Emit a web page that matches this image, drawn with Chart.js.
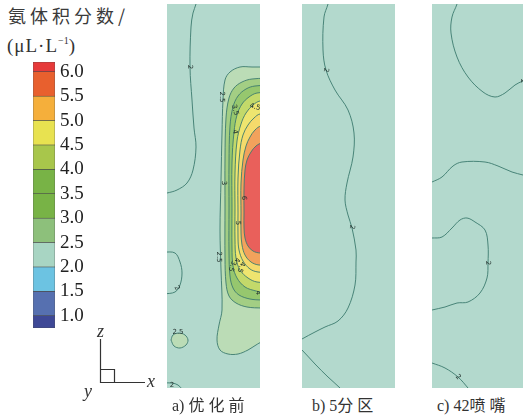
<!DOCTYPE html>
<html>
<head>
<meta charset="utf-8">
<script src="https://cdn.jsdelivr.net/npm/chart.js@4.4.1/dist/chart.umd.min.js"></script>
<style>
  html, body { margin: 0; padding: 0; background: #fff; }
  body { width: 523px; height: 419px; position: relative; overflow: hidden; color: #333; font-family: "Liberation Serif", "DejaVu Serif", "Noto Sans CJK SC", serif; }
  canvas { position: absolute; }
  .panel { top: 4px; background: #B3D9CD; }
  .title { position: absolute; left: 8px; top: 2px; font-family: "Noto Sans CJK SC"; font-size: 18px; letter-spacing: 4px; line-height: 26px; color: #3a3a3a; }
  .unit { position: absolute; left: 7px; top: 28px; font-size: 19px; letter-spacing: 1px; line-height: 26px; color: #333; }
  .unit sup { font-size: 10px; vertical-align: 8px; letter-spacing: 0; }
  .caption { position: absolute; top: 394px; font-size: 16px; line-height: 20px; white-space: nowrap; color: #333; }
  .caption span { font-family: "Noto Sans CJK SC"; letter-spacing: 4px; }
  .ax { position: absolute; font-style: italic; font-size: 18px; line-height: 18px; color: #333; }
</style>
</head>
<body>
<div class="title">氨体积分数/</div>
<div class="unit">(μL·L<sup>−1</sup>)</div>

<canvas id="colorbar" width="95" height="310" style="left:0;top:40px"></canvas>

<svg width="160" height="80" style="position:absolute;left:0;top:330px">
  <polyline points="100.5,9 100.5,52.5 145,52.5" fill="none" stroke="#333" stroke-width="1.2"/>
  <polyline points="100.5,39.5 114.5,39.5 114.5,52.5" fill="none" stroke="#333" stroke-width="1.2"/>
</svg>
<div class="ax" style="left:97px;top:322px">z</div>
<div class="ax" style="left:147px;top:372px">x</div>
<div class="ax" style="left:84px;top:382px">y</div>

<canvas id="panel-a" class="panel" width="93" height="384" style="left:167px"></canvas>
<canvas id="panel-b" class="panel" width="93" height="384" style="left:302px"></canvas>
<canvas id="panel-c" class="panel" width="93" height="384" style="left:432px"></canvas>

<div class="caption" style="left:172px">a) <span>优化前</span></div>
<div class="caption" style="left:312px">b) 5<span>分区</span></div>
<div class="caption" style="left:437px">c) 42<span>喷嘴</span></div>

<script>
// colour scale of the legend (ammonia volume fraction, μL/L)
const barLevels = [0.75, 1.0, 1.5, 2.0, 2.5, 3.0, 3.5, 4.0, 4.5, 5.0, 5.5, 6.0, 6.2];
const barTicks = [1.0, 1.5, 2.0, 2.5, 3.0, 3.5, 4.0, 4.5, 5.0, 5.5, 6.0];
const barColors = ['#3E4896', '#5670B0', '#6CC3E2', '#A8D5C3', '#8DC07B', '#78B346',
  '#78B346', '#A8C64B', '#E8E250', '#F5AF3B', '#E8602E', '#E63A3A'];

// panel a) contours, [x, z] with z measured up from the bottom of the section
const contourA25 = [[110, 321], [85, 321], [73, 321], [63, 316], [58, 308], [56, 288], [55, 255], [54, 208],
  [53, 158], [54, 118], [55, 78], [52, 63], [50, 48], [53, 38], [61, 34], [71, 34], [81, 38], [89, 43], [95, 46], [110, 47]];
const contourA30 = [[110, 310], [85, 309], [75, 306], [67, 300], [62, 290], [59, 270], [58, 230], [58, 180],
  [58, 130], [59, 105], [62, 92], [69, 85], [80, 81], [95, 80], [110, 80]];
const contourA35 = [[110, 303], [88, 302], [79, 299], [71, 292], [66, 281], [63, 262], [62, 225], [62, 180],
  [62, 135], [63, 112], [66, 100], [72, 93], [83, 89], [95, 88], [110, 88]];
const contourA40 = [[110, 296], [90, 295], [82, 291], [75, 284], [70, 273], [67, 256], [65, 225], [65, 180],
  [65, 140], [66, 122], [70, 110], [78, 101], [89, 97], [95, 96], [110, 95]];
const contourA45 = [[110, 288], [93, 287], [86, 283], [79, 275], [74, 264], [70, 247], [68, 215], [68, 180],
  [68, 148], [69, 130], [73, 118], [81, 110], [90, 106], [110, 105]];
const contourA50 = [[110, 275], [93, 274], [87, 270], [81, 263], [76, 253], [73, 238], [71, 210], [71, 175],
  [71, 150], [72, 138], [76, 127], [83, 119], [91, 116], [110, 115]];
const contourA55 = [[110, 263], [94, 262], [88, 258], [83, 251], [79, 242], [76, 228], [74, 205], [74, 175],
  [74, 155], [75, 143], [78, 133], [84, 126], [92, 123], [110, 123]];
const contourA60 = [[110, 246], [95, 245], [89, 242], [84, 236], [80, 228], [78, 218], [77, 200], [77, 175],
  [77, 160], [78, 150], [81, 142], [86, 137], [93, 135], [110, 135]];
const contourASpot25 = [[4, 48], [6, 53], [12, 55], [18, 53], [21, 48], [19, 43], [13, 40], [7, 42], [4, 48]];
const panelABands = [contourA25, contourA30, contourA35, contourA40, contourA45, contourA50, contourA55, contourA60, contourASpot25];
const panelABandColors = ['#BBDCB6', '#A3CE84', '#96C76E', '#C3D96A', '#EEE56F', '#F5DA6B', '#F2A25C', '#E9605B', '#BBDCB6'];

const lineA2Top = [[30, 392], [29, 384], [26, 375], [24, 361], [23, 321], [25, 288], [27, 260], [29, 241],
  [26, 218], [20, 205], [10, 198], [0, 195], [-3, 195]];
const lineA2Left = [[-3, 136], [8, 135], [13, 126], [15, 115], [13, 103], [8, 96], [-3, 94]];
const lineA2Corner = [[-3, 5], [5, 5], [11, 3], [16, -2]];
const panelALines = [lineA2Top, lineA2Left, lineA2Corner];
const panelALabels = [[23, 321, '2', 90], [55, 291, '2.5', 90], [68, 278, '3.5', 75], [88, 281, '4.5', 15],
  [68, 256, '4', 80], [57, 205, '3', 90], [77, 190, '6', 90], [71, 165, '5', 90], [52, 131, '2.5', 90],
  [70, 128, '4', 100], [65, 122, '3.5', 110], [74, 121, '4.5', 110], [10, 100, '2', 60], [11, 56, '2.5', 0],
  [5, 3, '2', 0], [91, 95, '4', 90]];

// panel b) contours
const lineB2Main = [[27, 390], [26, 384], [22, 371], [21, 338], [24, 318], [33, 298], [46, 278], [52, 255],
  [51, 231], [45, 205], [43, 188], [46, 173], [50, 160], [54, 138], [54, 126], [53, 103], [46, 80], [36, 67],
  [23, 61], [13, 56], [0, 49], [-3, 47]];
const lineB2Low = [[-3, 40], [0, 38], [13, 24], [26, 11], [38, 0], [40, -3]];
const panelBLines = [lineB2Main, lineB2Low];
const panelBLabels = [[24, 318, '2', 100], [50, 161, '2', 100]];

// panel c) contours
const lineC2Top = [[26, 390], [25, 384], [20, 371], [19, 355], [25, 331], [36, 311], [51, 296], [63, 291],
  [73, 295], [83, 303], [91, 307], [98, 309]];
const lineC2Mid = [[-3, 205], [0, 206], [10, 211], [21, 222], [30, 226], [53, 226], [66, 222], [80, 216], [91, 213], [98, 211]];
const lineC2Lobe = [[-3, 150], [0, 150], [10, 151], [20, 160], [28, 168], [35, 170], [43, 166], [53, 158],
  [56, 143], [56, 125], [55, 110], [48, 95], [36, 86], [25, 85], [13, 81], [0, 78], [-3, 77]];
const lineC2Low = [[-3, 26], [0, 25], [13, 20], [26, 11], [36, 0], [38, -3]];
const panelCLines = [lineC2Top, lineC2Mid, lineC2Lobe, lineC2Low];
const panelCLabels = [[91, 307, '2', 90], [56, 125, '2', 90], [26, 11, '2', 45]];

const lineColor = '#3C7A6E';

function toPoints(pairs) {
  return pairs.map(p => ({x: p[0], y: p[1]}));
}

function makeLabelPlugin(items) {
  return {
    id: 'contourLabels',
    afterDatasetsDraw(chart) {
      const {ctx, scales} = chart;
      ctx.save();
      ctx.font = '7px "DejaVu Sans"';
      ctx.fillStyle = '#24332f';
      ctx.textAlign = 'center';
      ctx.textBaseline = 'middle';
      items.forEach(([vx, vz, text, rot]) => {
        ctx.save();
        ctx.translate(scales.x.getPixelForValue(vx), scales.y.getPixelForValue(vz));
        ctx.rotate(rot * Math.PI / 180);
        ctx.fillText(text, 0, 0);
        ctx.restore();
      });
      ctx.restore();
    }
  };
}

function createContourChart(canvasId, bands, bandColors, lines, labels) {
  const datasets = [];
  bands.forEach((band, i) => {
    datasets.push({
      data: toPoints(band),
      backgroundColor: bandColors[i],
      borderColor: lineColor,
      fill: 'shape',
      order: 100 - i
    });
  });
  lines.forEach(line => {
    datasets.push({
      data: toPoints(line),
      borderColor: lineColor,
      fill: false,
      order: 0
    });
  });

  const ctx = document.getElementById(canvasId).getContext('2d');
  new Chart(ctx, {
    type: 'scatter',
    data: {datasets: datasets},
    options: {
      responsive: false,
      animation: false,
      showLine: true,
      layout: {padding: 0},
      elements: {
        point: {radius: 0, hoverRadius: 0},
        line: {tension: 0.35, borderWidth: 0.9}
      },
      scales: {
        x: {type: 'linear', min: 0, max: 93, display: false},
        y: {type: 'linear', min: 0, max: 384, display: false}
      },
      plugins: {
        legend: {display: false},
        tooltip: {enabled: false}
      }
    },
    plugins: [makeLabelPlugin(labels)]
  });
}

function createColorBar(canvasId) {
  const datasets = barColors.map((color, i) => {
    return {
      data: [[barLevels[i], barLevels[i + 1]]],
      backgroundColor: color,
      borderColor: '#4a4a4a',
      borderWidth: 0.6,
      borderSkipped: false,
      grouped: false,
      barPercentage: 1,
      categoryPercentage: 1
    };
  });

  const ctx = document.getElementById(canvasId).getContext('2d');
  new Chart(ctx, {
    type: 'bar',
    data: {
      labels: ['level'],
      datasets: datasets
    },
    options: {
      responsive: false,
      animation: false,
      layout: {padding: {left: 33, right: 0, top: 22, bottom: 22}},
      scales: {
        x: {display: false},
        y: {
          position: 'right',
          min: barLevels[0],
          max: barLevels[barLevels.length - 1],
          grid: {display: false, drawTicks: false},
          border: {display: false},
          afterBuildTicks: (scale) => {
            scale.ticks = barTicks.map(v => ({value: v}));
          },
          afterFit: (scale) => {
            scale.width = 40;
          },
          ticks: {
            padding: 5,
            color: '#222',
            font: {family: '"Liberation Serif", "DejaVu Serif", serif', size: 19},
            callback: (value) => Number(value).toFixed(1)
          }
        }
      },
      plugins: {
        legend: {display: false},
        tooltip: {enabled: false}
      }
    }
  });
}

createColorBar('colorbar');
createContourChart('panel-a', panelABands, panelABandColors, panelALines, panelALabels);
createContourChart('panel-b', [], [], panelBLines, panelBLabels);
createContourChart('panel-c', [], [], panelCLines, panelCLabels);
</script>
</body>
</html>
